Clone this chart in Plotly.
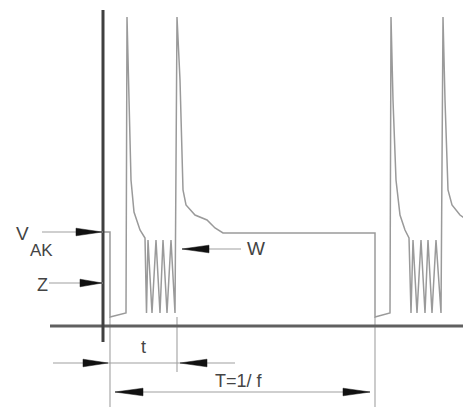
import plotly.graph_objects as go

# ---- data (pixel-space schematic coordinates) ----
wave_x = [103, 110, 110, 126, 127, 129, 131, 134, 140, 145,
          146.5, 148, 152, 156, 160, 163, 167, 171, 175,
          177, 180, 183, 186, 195, 200, 207, 215, 223, 375, 375, 390,
          391, 393, 396, 400, 405, 409,
          411, 413, 417, 421, 425, 428, 432, 436, 441,
          443, 445, 448, 452, 460, 467]
wave_y = [232, 232, 317, 313, 17, 100, 180, 212, 230, 238,
          313, 240, 313, 240, 313, 240, 313, 240, 313,
          17, 80, 190, 205, 215, 217, 220, 228, 233, 233, 317, 313,
          17, 100, 180, 215, 230, 238,
          313, 240, 313, 240, 313, 240, 313, 240, 313,
          17, 100, 190, 205, 215, 220]

ext_x = [[110, 110], [177, 177], [375, 375]]
ext_y = [[317, 407], [317, 372], [317, 407]]

axis_v_x = [103, 103]
axis_v_y = [10, 342]
axis_h_x = [50, 471]
axis_h_y = [326, 326]

# arrows: (line x0, x1, y, [(tip_x, direction, length)])
arrow_lines = [
    (42, 103, 232, [(102, 1, 26)]),
    (49, 103, 283, [(102, 1, 22)]),
    (241, 182, 249, [(182, -1, 27)]),
    (53, 235, 363, [(108, 1, 25), (180, -1, 27)]),
    (115, 370, 392, [(115, -1, 28), (370, 1, 27)]),
]

labels = [
    ("V", 22, 233, 19),
    ("AK", 41, 250, 17),
    ("Z", 42, 285, 18),
    ("W", 256, 248, 19),
    ("t", 143.5, 347, 18),
    ("T=1/ f", 239, 381, 18),
]

fig = go.Figure()

GRAY = "#9a9a9a"

for ex, ey in zip(ext_x, ext_y):
    fig.add_trace(go.Scatter(x=ex, y=ey, mode="lines",
                             line=dict(color="#b0b0b0", width=1.3),
                             hoverinfo="skip", showlegend=False))

fig.add_trace(go.Scatter(x=wave_x, y=wave_y, mode="lines",
                         line=dict(color=GRAY, width=1.5),
                         hoverinfo="skip", showlegend=False))

fig.add_trace(go.Scatter(x=axis_h_x, y=axis_h_y, mode="lines",
                         line=dict(color="#606060", width=3),
                         hoverinfo="skip", showlegend=False))
fig.add_trace(go.Scatter(x=axis_v_x, y=axis_v_y, mode="lines",
                         line=dict(color="#404040", width=3),
                         hoverinfo="skip", showlegend=False))

for x0, x1, y, heads in arrow_lines:
    fig.add_trace(go.Scatter(x=[x0, x1], y=[y, y], mode="lines",
                             line=dict(color="#a0a0a0", width=1.2),
                             hoverinfo="skip", showlegend=False))
    for tip, d, L in heads:
        bx = tip - d * L
        fig.add_trace(go.Scatter(x=[tip, bx, bx, tip], y=[y, y - 3.8, y + 3.8, y],
                                 mode="lines", fill="toself",
                                 fillcolor="#111111",
                                 line=dict(color="#111111", width=0.5),
                                 hoverinfo="skip", showlegend=False))

for txt, x, y, s in labels:
    fig.add_annotation(x=x, y=y, text=txt, showarrow=False,
                       font=dict(family="Liberation Sans, Arial", size=s, color="#444444"),
                       xanchor="center", yanchor="middle")

# page body has an 8px margin; offset the ranges so the drawing lands in place
OFF = 8
fig.update_layout(
    width=471, height=407,
    margin=dict(l=0, r=0, t=0, b=0),
    paper_bgcolor="white", plot_bgcolor="white",
    xaxis=dict(range=[OFF, 471 + OFF], visible=False, fixedrange=True),
    yaxis=dict(range=[407 + OFF, OFF], visible=False, fixedrange=True),
)

fig.write_html("out.html")
